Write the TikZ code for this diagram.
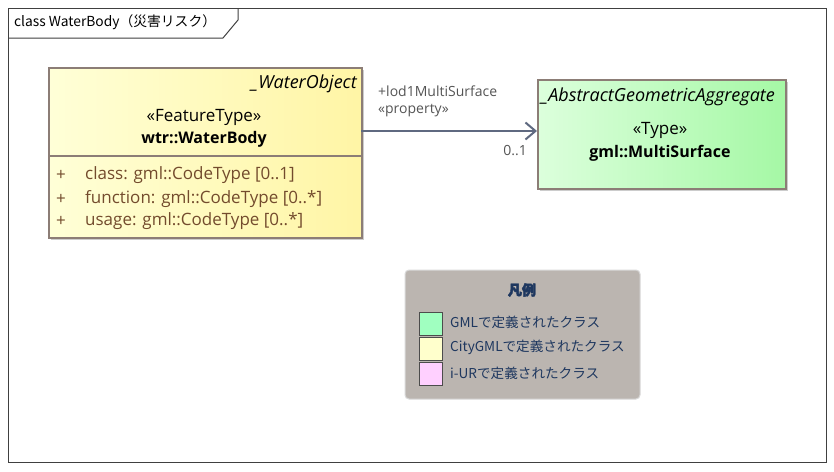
\documentclass[tikz,border=0pt]{standalone}
\usepackage{fontspec}
\setmainfont{Open Sans}
\newfontfamily\jp{Noto Sans CJK JP}[BoldFeatures={FakeBold=3}]
\usepackage{tikz}
\usetikzlibrary{arrows.meta,positioning}

\definecolor{frameline}{RGB}{64,64,64}
\definecolor{boxline}{RGB}{140,125,118}
\definecolor{ylwleft}{RGB}{255,255,215}
\definecolor{ylwright}{RGB}{255,245,165}
\definecolor{grnleft}{RGB}{220,255,220}
\definecolor{grnright}{RGB}{165,248,165}
\definecolor{attrtext}{RGB}{115,75,45}
\definecolor{assocline}{RGB}{95,105,128}
\definecolor{labeltext}{RGB}{85,85,85}
\definecolor{legendfill}{RGB}{187,181,176}
\definecolor{legendtext}{RGB}{30,55,95}
\definecolor{swgml}{RGB}{160,255,192}
\definecolor{swcity}{RGB}{255,255,204}
\definecolor{swiur}{RGB}{255,208,255}

\begin{document}
\begin{tikzpicture}[x=1pt,y=-1pt,
    every node/.style={inner sep=0pt,font=\fontsize{17}{19}\selectfont},
    classbox/.style={draw=boxline,line width=2.2pt,anchor=north west},
    shadowbox/.style={fill=black!20,draw=none,anchor=north west},
    superlbl/.style={font=\itshape\fontsize{18}{20}\selectfont},
    namelbl/.style={font=\bfseries\fontsize{16}{18}\selectfont},
    assoc/.style={draw=assocline,line width=2.4pt,-{Straight Barb[length=10pt,width=17pt,line width=2pt]}},
    swatch/.style={draw=black!70,line width=1pt,minimum width=23pt,minimum height=23pt,anchor=north west},
    lbl/.style={text=labeltext,font=\fontsize{14}{16}\selectfont},
    legendtxt/.style={text=legendtext,anchor=west,font=\jp\fontsize{13.6}{15}\selectfont}]
  \useasboundingbox[fill=white] (0,0) rectangle (834,471);

  % outer frame and title tab
  \draw[frameline,line width=1pt] (8,8) rectangle (826,462);
  \draw[frameline,line width=1pt] (8,38) -- (223,38) -- (238,20) -- (238,8);
  \node[anchor=west] (title) at (14,22) {\jp\fontsize{13.8}{15}\selectfont class WaterBody（災害リスク）};

  % WaterBody class
  \node[shadowbox,minimum width=313pt,minimum height=170pt] at (51,70) {};
  \node[classbox,left color=ylwleft,right color=ylwright,minimum width=313pt,minimum height=170pt] (wb) at (48,67) {};
  \draw[boxline,line width=2pt] (wb.west |- 0,156) -- (wb.east |- 0,156);
  \node[superlbl,anchor=east] (wbsuper) at (357,84) {\_WaterObject};
  \node (wbstereo) at (204,117) {«FeatureType»};
  \node[namelbl] (wbname) at (204,139) {wtr::WaterBody};
  \foreach \y/\attr in {175/{class: gml::CodeType [0..1]},
                        199/{function: gml::CodeType [0..*]},
                        221/{usage: gml::CodeType [0..*]}} {
    \node[anchor=west,text=attrtext] at (56,\y) {+};
    \node[anchor=west,text=attrtext] at (85,\y) {\attr};
  }

  % MultiSurface class
  \node[shadowbox,minimum width=248pt,minimum height=109pt] at (540,82) {};
  \node[classbox,left color=grnleft,right color=grnright,minimum width=248pt,minimum height=109pt] (ms) at (537,79) {};
  \node[superlbl,anchor=west] (mssuper) at (541,97) {\_AbstractGeometricAggregate};
  \node (msstereo) at (660,130) {«Type»};
  \node[namelbl] (msname) at (660,153) {gml::MultiSurface};

  % association
  \coordinate (src) at (361,131);
  \draw[assoc] (src) -- (src -| ms.west);
  \node[lbl,anchor=west] (role) at (378,91) {+lod1MultiSurface};
  \node[lbl,anchor=west] (prop) at (378,111) {«property»};
  \node[lbl,anchor=east] (mult) at (527,151) {0..1};

  % legend
  \draw[fill=legendfill,draw=black!15,line width=1pt,rounded corners=4pt] (405,270) rectangle (640,399);
  \node[text=legendtext,font=\jp\bfseries\fontsize{14}{16}\selectfont] (lgtitle) at (522,290) {凡例};
  \node[swatch,fill=swgml] (sw1) at (419,312) {};
  \node[swatch,fill=swcity] (sw2) at (419,337) {};
  \node[swatch,fill=swiur] (sw3) at (419,362) {};
  \node[legendtxt] (lg1) at (450,322) {GMLで定義されたクラス};
  \node[legendtxt] (lg2) at (450,347) {CityGMLで定義されたクラス};
  \node[legendtxt] (lg3) at (450,373) {i-URで定義されたクラス};
\end{tikzpicture}
\end{document}
